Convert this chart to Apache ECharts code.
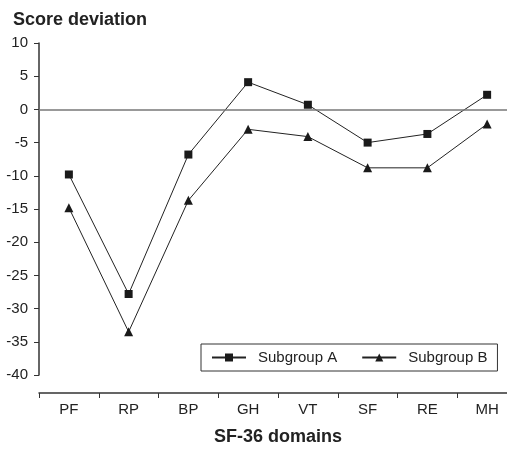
<!DOCTYPE html>
<html><head><meta charset="utf-8">
<script src="https://cdn.jsdelivr.net/npm/echarts@6/dist/echarts.min.js"></script>
<style>html,body{margin:0;padding:0;overflow:hidden;background:#fff}#c{width:507px;height:450px}</style>
</head><body><div id="c"></div>
<script>
const categories = ['PF','RP','BP','GH','VT','SF','RE','MH'];
const subgroupA = [-9.8,-27.8,-6.8,4.1,0.7,-5.0,-3.7,2.2];
const subgroupB = [-14.8,-33.5,-13.7,-3.0,-4.1,-8.8,-8.8,-2.2];
const yTicks = {min:-40,max:10,interval:5};
const font = 'Liberation Sans, Arial, sans-serif';
const chart = echarts.init(document.getElementById('c'));
chart.setOption({
  animation:false,
  title:{text:'Score deviation',left:8,top:6,textStyle:{fontFamily:font,fontSize:18,fontWeight:'bold',color:'#222'}},
  grid:{left:39,top:43,right:-10,bottom:75,containLabel:false,outerBoundsMode:'none'},
  legend:{left:201,top:344,orient:'horizontal',borderColor:'#333',borderWidth:1,
    padding:[6,10,6,10],itemWidth:34,itemHeight:10,itemGap:24,
    textStyle:{fontFamily:font,fontSize:15,color:'#222',padding:[0,0,0,7]},data:['Subgroup A','Subgroup B']},
  xAxis:{type:'category',data:categories,boundaryGap:true,offset:18,
    axisLine:{onZero:false,lineStyle:{color:'#333',width:1.5}},
    axisTick:{show:true,inside:false,length:5,lineStyle:{color:'#333',width:1}},
    axisLabel:{fontFamily:font,fontSize:15,color:'#222',margin:9},
    name:'SF-36 domains',nameLocation:'middle',nameGap:35,
    nameTextStyle:{fontFamily:font,fontSize:18,fontWeight:'bold',color:'#222'}},
  yAxis:{type:'value',min:yTicks.min,max:yTicks.max,interval:yTicks.interval,
    axisLine:{show:true,lineStyle:{color:'#333',width:1.5}},
    axisTick:{show:true,length:5,lineStyle:{color:'#333',width:1}},
    axisLabel:{fontFamily:font,fontSize:15,color:'#222',margin:11},
    splitLine:{show:false}},
  series:[
    {name:'Subgroup A',type:'line',data:subgroupA,symbol:'rect',symbolSize:8,
     lineStyle:{color:'#222',width:1},itemStyle:{color:'#1a1a1a'},
     markLine:{silent:true,symbol:'none',label:{show:false},lineStyle:{color:'#777',width:1.5,type:'solid'},data:[{yAxis:0}]}},
    {name:'Subgroup B',type:'line',data:subgroupB,symbol:'triangle',symbolSize:9,
     lineStyle:{color:'#222',width:1},itemStyle:{color:'#1a1a1a'}}
  ]
});
</script></body></html>
